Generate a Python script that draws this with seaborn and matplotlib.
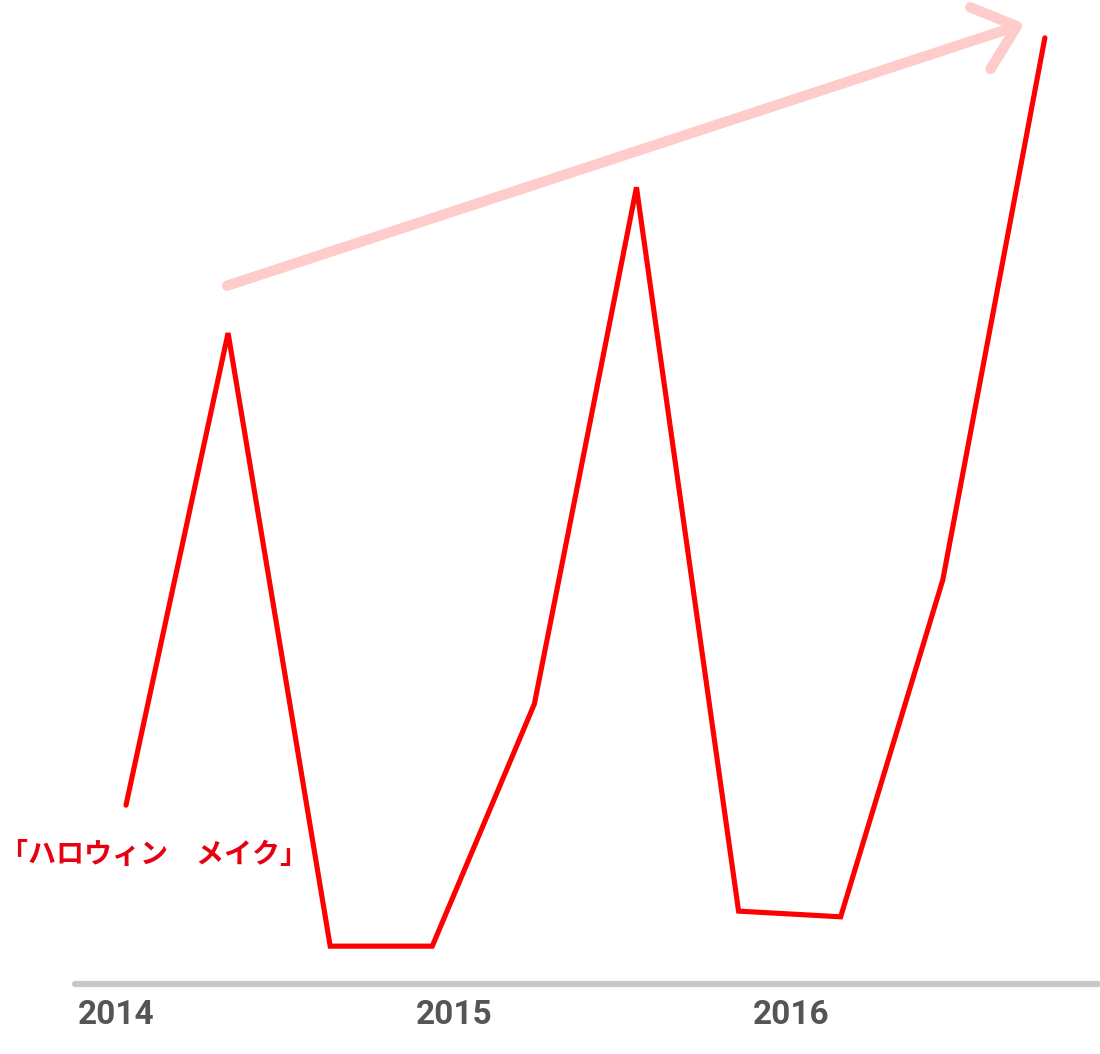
import numpy as np
import pandas as pd
import matplotlib
matplotlib.use("Agg")
import matplotlib.pyplot as plt
import seaborn as sns

# data: search interest (top point = 100)
periods = list(range(10))
interest = [18.9, 68.8, 4.0, 4.0, 29.6, 84.2, 7.7, 7.1, 42.7, 100.0]
year_labels = ["2014", "2015", "2016"]
year_pos = [-0.47, 2.84, 6.14]
series_label = "「ハロウィン　メイク」"

RED = "#ff0000"
PINK = "#ffcccc"
AXIS_GRAY = "#c8c8c8"
TEXT_GRAY = "#555555"

sns.set_theme(style="white")
plt.rcParams["font.family"] = ["Roboto", "Noto Sans CJK JP", "DejaVu Sans"]

df = pd.DataFrame({"period": periods, "interest": interest})

fig = plt.figure(figsize=(11, 10.54), dpi=100)
ax = fig.add_axes([0, 0, 1, 1])

sns.lineplot(data=df, x="period", y="interest", ax=ax, color=RED, linewidth=3.7,
             solid_capstyle="round", solid_joinstyle="miter")

# baseline
ax.axhline(0, xmin=0.068, xmax=0.998, color=AXIS_GRAY, linewidth=4.5,
           solid_capstyle="round", zorder=1)

# years under the baseline
for pos, lab in zip(year_pos, year_labels):
    ax.text(pos, -3.3, lab, ha="left", va="center", fontsize=24,
            fontweight="bold", color=TEXT_GRAY, family=["Roboto", "DejaVu Sans"])

# series label
ax.text(0.0, 13.6, series_label, transform=ax.get_yaxis_transform(),
        ha="left", va="center", fontsize=20.2, fontweight="bold", color="#e60012",
        family=["Noto Sans CJK JP", "DejaVu Sans"])

# trend arrow
ax.annotate("", xy=(8.8, 101.5), xytext=(0.99, 73.8),
            arrowprops=dict(arrowstyle="->,head_length=2.3,head_width=1.95",
                            lw=7.5, color=PINK, shrinkA=0, shrinkB=0,
                            capstyle="round"), zorder=0)

ax.set_xlim(-1.234, 9.54)
ax.set_ylim(-7.4, 104.0)
ax.set_xlabel("")
ax.set_ylabel("")
ax.set_xticks([])
ax.set_yticks([])
for s in ax.spines.values():
    s.set_visible(False)

fig.savefig("out.png", dpi=100)
plt.close(fig)
